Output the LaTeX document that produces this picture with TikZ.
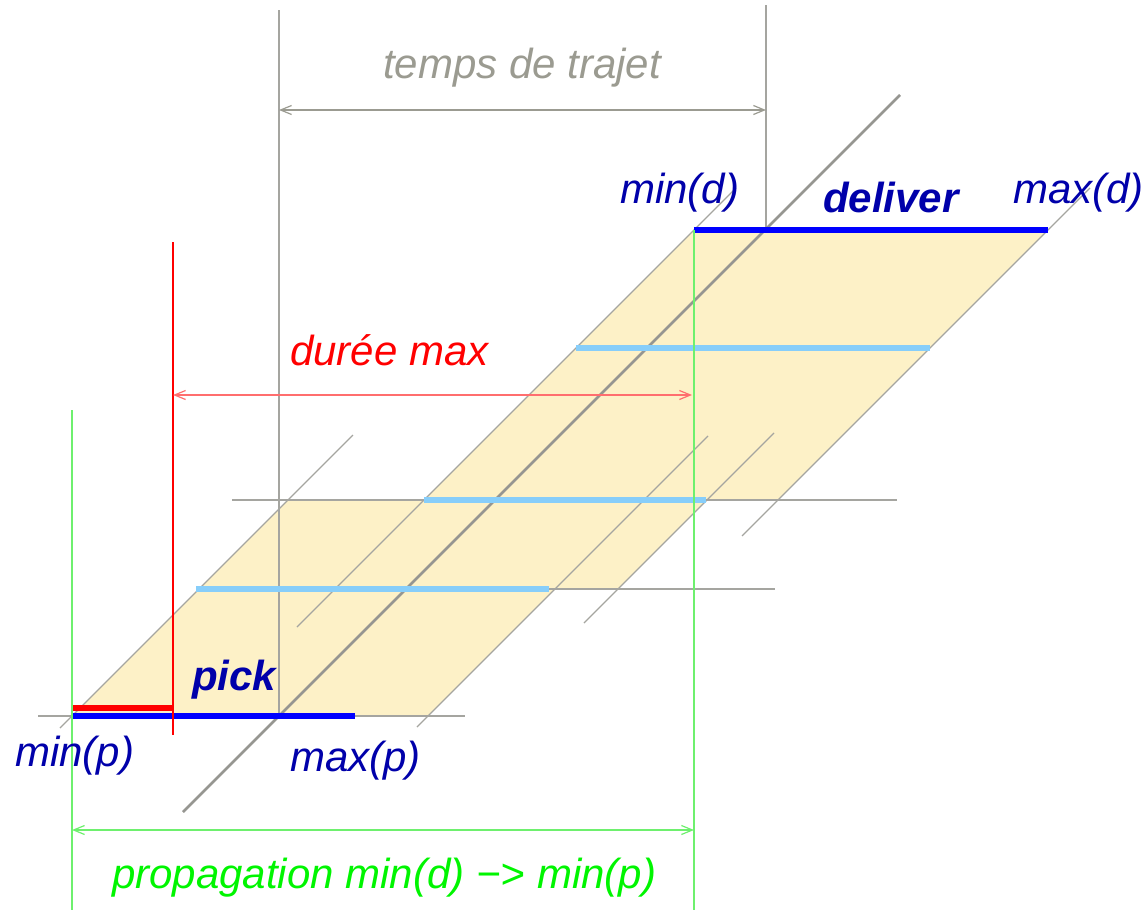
\documentclass[tikz,border=0pt]{standalone}
\usepackage{fontspec}
\setmainfont{Liberation Sans}
\usetikzlibrary{arrows.meta}
\definecolor{winfill}{RGB}{253,241,199}
\definecolor{lineg}{RGB}{165,165,160}
\definecolor{diagg}{RGB}{150,150,145}
\definecolor{txtblue}{RGB}{0,0,170}
\definecolor{skyb}{RGB}{135,206,250}
\definecolor{brgreen}{RGB}{0,245,0}
\definecolor{lgreen}{RGB}{110,240,110}
\definecolor{tgrey}{RGB}{155,155,145}
\definecolor{lred}{RGB}{255,110,110}
\begin{document}
\begin{tikzpicture}[x=1pt,y=-1pt,
  every node/.style={font=\fontsize{42}{50}\selectfont\itshape, inner sep=0pt, anchor=base west},
  thingrey/.style={lineg, line width=1.1pt},
  bar/.style={line width=5.5pt},
  dimarrow/.style={line width=1.2pt, {Straight Barb[length=11pt,width=9pt]}-{Straight Barb[length=11pt,width=9pt]}}]
  \useasboundingbox (0,0) rectangle (1148,910);
  % feasible region
  \fill[winfill] (72,716) -- (428,716) -- (555,589) -- (618,589) -- (707,500) -- (778,500)
    -- (1048,230) -- (694,230) -- (424,500) -- (288,500) -- cycle;
  % horizontal levels
  \draw[thingrey] (38,716) -- (465,716);
  \draw[thingrey] (196,589) -- (775,589);
  \draw[thingrey] (232,500) -- (897,500);
  % 45 degree lines
  \draw[thingrey] (60,728) -- (353,435);
  \draw[thingrey] (297,627) -- (736,188);
  \draw[thingrey] (417,727) -- (708,436);
  \draw[thingrey] (584,623) -- (774,433);
  \draw[thingrey] (742,536) -- (1090,188);
  % travel time
  \draw[thingrey] (279,10) -- (279,716);
  \draw[thingrey] (766,5) -- (766,230);
  \draw[diagg, line width=2.6pt] (183,812) -- (900,95);
  \draw[dimarrow, tgrey] (279,110) -- (766,110);
  \node[tgrey] (trajet) at (383,78) {temps de trajet};
  % windows
  \draw[bar, blue] (72,716) -- (355,716);
  \draw[bar, blue] (694,230) -- (1048,230);
  \draw[bar, red] (72,708) -- (173,708);
  \draw[bar, skyb] (196,589) -- (549,589);
  \draw[bar, skyb] (424,500) -- (706,500);
  \draw[bar, skyb] (576,348) -- (930,348);
  % max duration
  \draw[red, line width=1.2pt] (173,242) -- (173,735);
  \draw[dimarrow, lred] (173,395) -- (692,395);
  \node[red] (dureemax) at (290,365) {durée max};
  % propagation
  \draw[lgreen, line width=1.5pt] (72,410) -- (72,910);
  \draw[lgreen, line width=1.5pt] (694,230) -- (694,910);
  \draw[dimarrow, lgreen] (72,830) -- (694,830);
  \node[brgreen] (propag) at (112,888) {propagation min(d) −> min(p)};
  % labels
  \node[txtblue] (mind) at (620,203) {min(d)};
  \node[txtblue, font=\fontsize{42}{50}\selectfont\bfseries\itshape] (deliver) at (823,212) {deliver};
  \node[txtblue] (maxd) at (1013,203) {max(d)};
  \node[txtblue, font=\fontsize{42}{50}\selectfont\bfseries\itshape] (pick) at (192,690) {pick};
  \node[txtblue] (minp) at (15,766) {min(p)};
  \node[txtblue] (maxp) at (290,771) {max(p)};
\end{tikzpicture}
\end{document}
